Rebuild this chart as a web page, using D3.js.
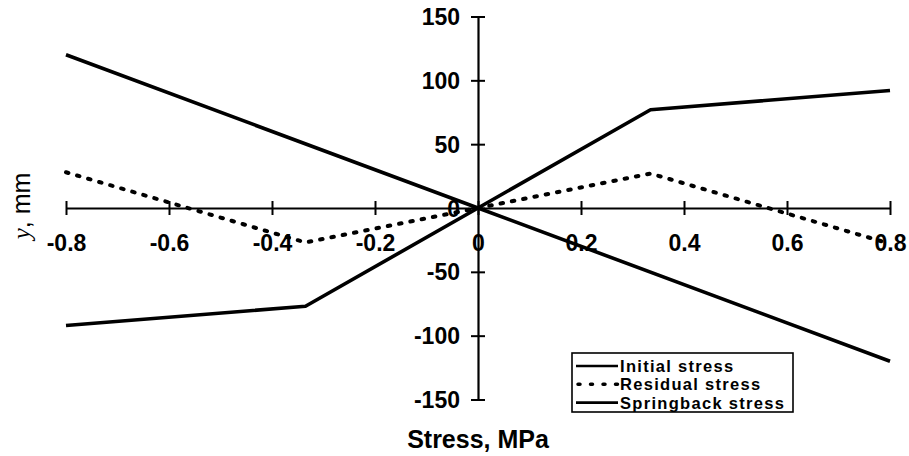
<!DOCTYPE html>
<html>
<head>
<meta charset="utf-8">
<script src="https://cdn.jsdelivr.net/npm/d3@7"></script>
<style>
  html, body { margin: 0; padding: 0; background: #fff; }
  svg { display: block; }
  text { font-family: "Liberation Sans", Arial, sans-serif; font-weight: bold; fill: #000; }
</style>
</head>
<body>
<svg id="chart" width="909" height="456"></svg>
<script>
// Stress distributions through the section depth
const stressX = [-0.8, -0.335, 0, 0.335, 0.8];          // MPa
const initialY = [-92, -77, 0, 77, 92];                  // mm
const springbackX = [-0.8, 0, 0.8];
const springbackY = [120, 0, -120];
const residualY = [28, -27, 0, 27, -28];

const xTicks = [-0.8, -0.6, -0.4, -0.2, 0, 0.2, 0.4, 0.6, 0.8];
const yTicks = [-150, -100, -50, 0, 50, 100, 150];

const seriesNames = ["Initial stress", "Residual stress", "Springback stress"];

const svg = d3.select("#chart");
const x = d3.scaleLinear().domain([-0.8, 0.8]).range([66, 890]);
const y = d3.scaleLinear().domain([-150, 150]).range([399.5, 16.5]);
const fmt = d => String(d);   // plain hyphen for negatives

// axes crossing at the origin
const xAxis = svg.append("g")
  .attr("transform", `translate(0,${y(0)})`)
  .call(d3.axisBottom(x).tickValues(xTicks).tickSizeOuter(0).tickFormat(fmt));
xAxis.select(".domain").attr("stroke", "#000").attr("stroke-width", 2.2);
xAxis.selectAll(".tick line").attr("y1", -7).attr("y2", 7).attr("stroke-width", 2);
xAxis.selectAll(".tick text")
  .attr("y", 35).attr("dy", "0.35em")
  .style("font-size", "23px").style("font-family", "'Liberation Sans', Arial, sans-serif")
  .style("font-weight", "bold");

const yAxis = svg.append("g")
  .attr("transform", `translate(${x(0)},0)`)
  .call(d3.axisLeft(y).tickValues(yTicks).tickSizeOuter(0).tickFormat(fmt));
yAxis.select(".domain").attr("stroke", "#000").attr("stroke-width", 2.2);
yAxis.selectAll(".tick line").attr("x1", -7).attr("x2", 7).attr("stroke-width", 2);
yAxis.selectAll(".tick text")
  .attr("x", -18).attr("dy", "0.35em")
  .style("font-size", "23px").style("font-family", "'Liberation Sans', Arial, sans-serif")
  .style("font-weight", "bold");

// series
const line = d3.line().x(d => x(d[0])).y(d => y(d[1]));
const initialPts = stressX.map((v, i) => [v, initialY[i]]);
const residualPts = stressX.map((v, i) => [v, residualY[i]]);
const springPts = springbackX.map((v, i) => [v, springbackY[i]]);

svg.append("path").datum(springPts).attr("d", line)
  .attr("fill", "none").attr("stroke", "#000").attr("stroke-width", 3.6);
svg.append("path").datum(initialPts).attr("d", line)
  .attr("fill", "none").attr("stroke", "#000").attr("stroke-width", 3.6)
  .attr("stroke-linejoin", "round");
svg.append("path").datum(residualPts).attr("d", line)
  .attr("fill", "none").attr("stroke", "#000").attr("stroke-width", 4)
  .attr("stroke-linecap", "round").attr("stroke-dasharray", "2.5,9");

// axis titles
svg.append("text")
  .attr("x", x(0)).attr("y", 448)
  .attr("text-anchor", "middle")
  .style("font-size", "25px")
  .text("Stress, MPa");

const yTitle = svg.append("text")
  .attr("transform", `translate(30,206) rotate(-90)`)
  .attr("text-anchor", "middle")
  .style("font-size", "25px");
yTitle.append("tspan")
  .style("font-family", "'Liberation Serif', 'Times New Roman', serif")
  .style("font-style", "italic").style("font-weight", "normal")
  .text("y");
yTitle.append("tspan").style("font-weight", "normal").text(", mm");

// legend
const legend = svg.append("g");
legend.append("rect")
  .attr("x", 572).attr("y", 353).attr("width", 221).attr("height", 59)
  .attr("fill", "#fff").attr("stroke", "#000").attr("stroke-width", 1.6);
const rows = legend.selectAll("g.row").data(seriesNames).join("g")
  .attr("class", "row")
  .attr("transform", (d, i) => `translate(0,${366 + i * 18.3})`);
rows.append("line")
  .attr("x1", 576).attr("x2", 618).attr("y1", 0).attr("y2", 0)
  .attr("stroke", "#000")
  .attr("stroke-width", (d, i) => i === 1 ? 3.5 : 2.6)
  .attr("stroke-linecap", (d, i) => i === 1 ? "round" : "butt")
  .attr("stroke-dasharray", (d, i) => i === 1 ? "2,10.5" : null)
  .attr("transform", (d, i) => i === 1 ? "translate(2,0)" : null);
rows.append("text")
  .attr("x", 620).attr("dy", "0.36em")
  .style("font-size", "16.5px")
  .style("letter-spacing", "1.3px")
  .text(d => d);
</script>
</body>
</html>
